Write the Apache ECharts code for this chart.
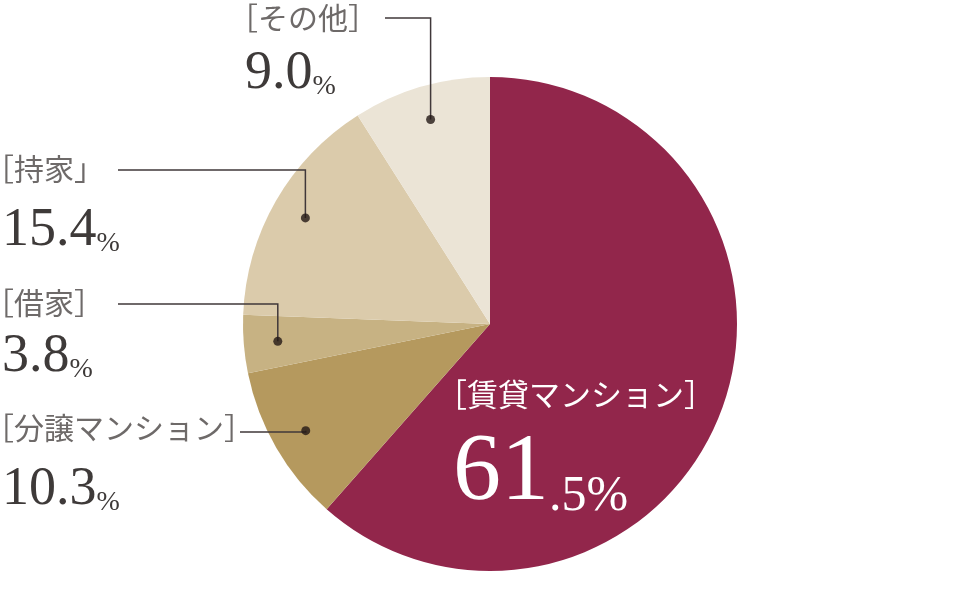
<!DOCTYPE html>
<html>
<head>
<meta charset="utf-8">
<script src="https://cdn.jsdelivr.net/npm/echarts@6/dist/echarts.min.js"></script>
<style>
  html, body { margin: 0; padding: 0; background: #fff; }
  #main { width: 980px; height: 600px; }
</style>
</head>
<body>
<div id="main"></div>
<script>
// データ（時計回り、上から）
var names = ['賃貸マンション', '分譲マンション', '借家', '持家', 'その他'];
var labelNames = ['［賃貸マンション］', '［分譲マンション］', '［借家］', '［持家」', '［その他］'];
var values = [61.5, 10.3, 3.8, 15.4, 9.0];
var valueLabels = ['61.5', '10.3', '3.8', '15.4', '9.0'];
var colors = ['#92264b', '#b5995e', '#c7b283', '#dbcbab', '#ebe4d6'];

// ラベルの置き場所（文字と引き出し線の端）
var labelPos = [
    { x: 436, y: 398, vx: 453, vy: 522 },
    { x: -16, y: 431, vx: 2, vy: 517 },
    { x: -16, y: 306, vx: 2, vy: 384 },
    { x: -16, y: 172, vx: 2, vy: 258 },
    { x: 228, y: 21, vx: 245, vy: 101 }
];
var lineEnd = [null, { x: 240, y: 432 }, { x: 118, y: 304 }, { x: 118, y: 170 }, { x: 385, y: 18 }];

var serif = "'Liberation Serif', 'Noto Sans CJK JP', serif";
var myChart = echarts.init(document.getElementById('main'));

// 点の位置はスライスの中央角度
var total = values.reduce(function (a, b) { return a + b; }, 0);
var acc = 0;
var dots = [];
values.forEach(function (v, i) {
    var mid = (acc + v / 2) / total * 100;
    acc += v;
    if (i > 0) dots.push({ value: [0.862, mid], idx: i });
});

var option = {
    animation: false,
    polar: { center: [490, 324], radius: 247 },
    angleAxis: {
        type: 'value', min: 0, max: 100, startAngle: 90, clockwise: true,
        axisLine: { show: false }, axisTick: { show: false },
        axisLabel: { show: false }, splitLine: { show: false }
    },
    radiusAxis: {
        type: 'value', min: 0, max: 1,
        axisLine: { show: false }, axisTick: { show: false },
        axisLabel: { show: false }, splitLine: { show: false }
    },
    series: [
        {
            type: 'pie',
            center: [490, 324],
            radius: 247,
            startAngle: 90,
            clockwise: true,
            silent: true,
            label: { show: false },
            labelLine: { show: false },
            data: names.map(function (n, i) {
                return { name: n, value: values[i], itemStyle: { color: colors[i] } };
            })
        },
        {
            type: 'scatter',
            coordinateSystem: 'polar',
            symbolSize: 9,
            z: 5,
            silent: true,
            itemStyle: { color: '#231815' },
            data: dots.map(function (d) { return d.value; })
        }
    ]
};
myChart.setOption(option);

// 引き出し線とラベル
var graphic = [];
dots.forEach(function (d) {
    var p = myChart.convertToPixel({ seriesIndex: 1 }, d.value);
    var e = lineEnd[d.idx];
    graphic.push({
        type: 'polyline',
        z: 4,
        shape: { points: [[p[0], p[1]], [p[0], e.y], [e.x, e.y]] },
        style: { stroke: '#40383a', lineWidth: 1.5, fill: null }
    });
});

labelNames.forEach(function (t, i) {
    var lp = labelPos[i];
    var big = i === 0;
    graphic.push({
        type: 'text',
        z: 6,
        x: lp.x,
        y: lp.y,
        style: {
            text: t,
            fill: big ? '#ffffff' : '#6e6a69',
            font: (big ? 31 : 30) + 'px ' + serif,
            verticalAlign: 'middle'
        }
    });
    var parts = valueLabels[i].split('.');
    var txt = big ? '{n|' + parts[0] + '}{p|.' + parts[1] + '%}' : '{n|' + valueLabels[i] + '}{p|%}';
    graphic.push({
        type: 'text',
        z: 6,
        x: lp.vx,
        y: lp.vy,
        style: {
            text: txt,
            verticalAlign: 'bottom',
            rich: {
                n: {
                    fontFamily: serif, fontSize: big ? 96 : 54,
                    lineHeight: big ? 96 : 54,
                    fill: big ? '#ffffff' : '#3e3a39', verticalAlign: 'bottom'
                },
                p: {
                    fontFamily: serif, fontSize: big ? 50 : 28,
                    lineHeight: big ? 70 : 40,
                    fill: big ? '#ffffff' : '#3e3a39', verticalAlign: 'bottom'
                }
            }
        }
    });
});

myChart.setOption({ graphic: graphic });
</script>
</body>
</html>
